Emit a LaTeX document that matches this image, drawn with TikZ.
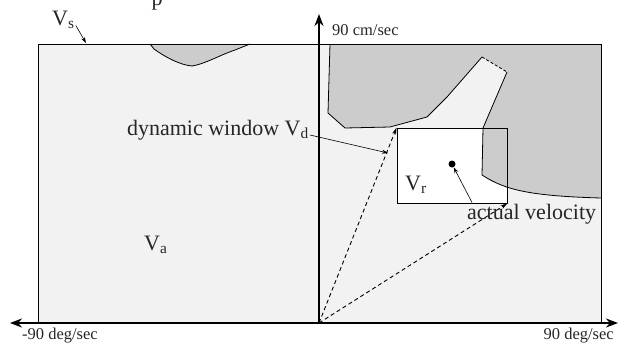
\documentclass[tikz,border=0pt]{standalone}
\usepackage{fontspec}
\setmainfont{Liberation Serif}
\usetikzlibrary{arrows.meta}
\definecolor{bgfill}{gray}{0.95}
\definecolor{obst}{gray}{0.80}
\tikzset{
  lbl/.style={font=\fontsize{22}{25}\selectfont, text=black!85, inner sep=0pt},
  axlbl/.style={font=\fontsize{16.5}{18}\selectfont, text=black!85, inner sep=0pt},
  thinline/.style={line width=0.8pt},
  axisline/.style={line width=2pt, -{Stealth[length=12pt,width=9pt]}},
  pointer/.style={line width=0.6pt, -{Stealth[length=6pt,width=4pt]}},
  dasharrow/.style={line width=0.9pt, dash pattern=on 4pt off 3pt, -{Stealth[length=7pt,width=4pt]}},
  obstedge/.style={line width=0.8pt},
}
\begin{document}
\begin{tikzpicture}[x=1pt,y=-1pt]
\useasboundingbox (0,0) rectangle (618,343);
\clip (0,0) rectangle (618,343);
% background region V_s
\path[fill=bgfill] (38,44) rectangle (601,323);
% window interior
\path[fill=white] (397,128) rectangle (507,203);
% right obstacle
\path[fill=obst] (330,44) -- (601,44) -- (601,198)
  .. controls (530,196) and (505,190) .. (482,175)
  -- (483,128) -- (507,72) -- (482,57) -- (447,97) -- (427,117)
  -- (390,127) -- (345,128) -- (328,113) -- cycle;
\draw[obstedge] (330,44) -- (328,113) -- (345,128) -- (390,127) -- (427,117) -- (447,97) -- (482,57);
\draw[obstedge, dash pattern=on 3pt off 2pt] (482,57) -- (507,72);
\draw[obstedge] (507,72) -- (483,128) -- (482,175) .. controls (505,190) and (530,196) .. (601,198);
% left obstacle
\path[fill=obst] (150,44) -- (154,49) .. controls (165,57) and (180,65) .. (192,66)
  .. controls (205,64) and (220,55) .. (235,50) -- (250,44) -- cycle;
\draw[obstedge] (150,44) -- (154,49) .. controls (165,57) and (180,65) .. (192,66)
  .. controls (205,64) and (220,55) .. (235,50) -- (250,44);
% outer rectangle
\draw[thinline] (38,44) rectangle (601,323);
% dynamic window
\node[draw, thinline, minimum width=110pt, minimum height=75pt, inner sep=0pt] (win) at (452,165.5) {};
% actual velocity dot
\node[circle, fill=black, minimum size=7pt, inner sep=0pt] (vel) at (452,164) {};
% origin and axes
\coordinate (o) at (319,323);
\coordinate (xneg) at (10,323);
\coordinate (xpos) at (618,323);
\coordinate (ypos) at (319,14);
\draw[dasharrow] (o) -- (win.north west);
\draw[dasharrow] (o) -- (win.south east);
\draw[axisline] (o) -- (xneg);
\draw[axisline] (o) -- (xpos);
\draw[axisline] (o) -- (ypos);
% labels
\node[lbl, anchor=base] (ptop) at (157,5) {p};
\node[lbl, anchor=base west] (vs) at (52,25) {V\textsubscript{s}};
\node[lbl, anchor=base east] (dyn) at (309,135) {dynamic window V\textsubscript{d}};
\node[lbl, anchor=base west] (va) at (144,250) {V\textsubscript{a}};
\node[lbl, anchor=base west] (vr) at (405,190) {V\textsubscript{r}};
\node[lbl, anchor=base west] (av) at (467,219) {actual velocity};
\node[axlbl, anchor=base west] (ylab) at (332,35) {90 cm/sec};
\node[axlbl, anchor=base west] (xnlab) at (22,339) {-90 deg/sec};
\node[axlbl, anchor=base east] (xplab) at (614,339) {90 deg/sec};
% pointers
\coordinate (vstip) at (86,43);
\coordinate (dyntip) at (388,153);
\draw[pointer] ([shift={(1pt,3pt)}]vs.south east) -- (vstip);
\draw[pointer] ([xshift=1pt]dyn.base east) -- (dyntip);
\draw[pointer] ([shift={(5pt,1pt)}]av.north west) -- (vel);
\end{tikzpicture}
\end{document}
